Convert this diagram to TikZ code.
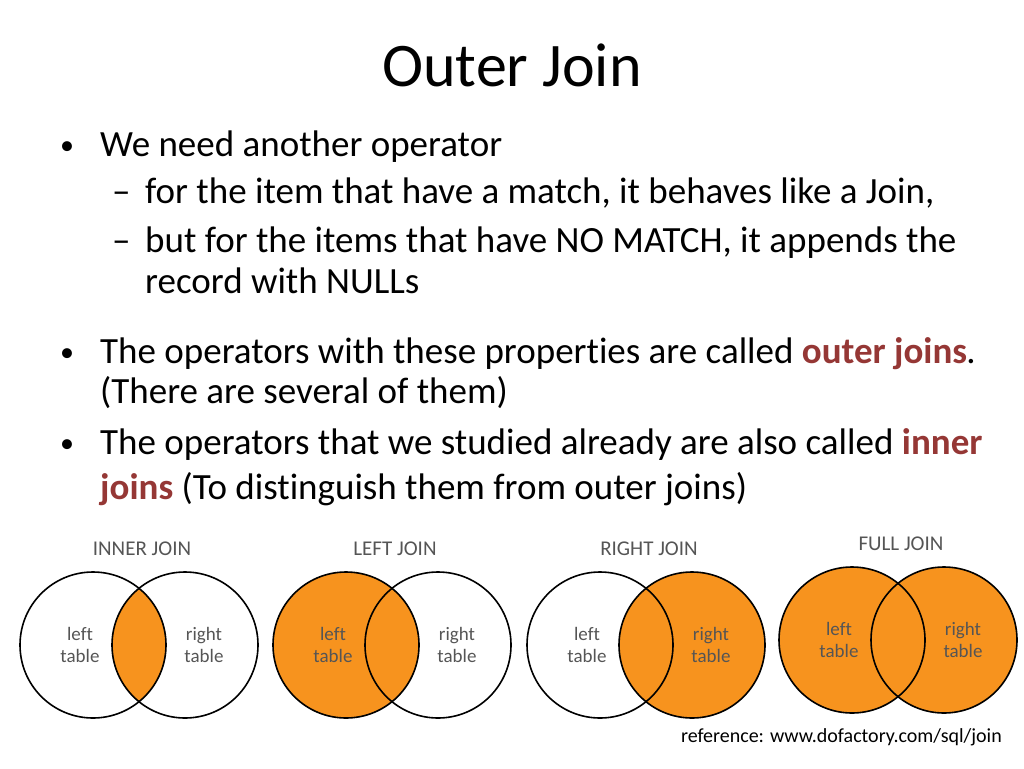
\documentclass[tikz,border=0pt]{standalone}
\usepackage{fontspec}
\setmainfont{Carlito}[RawFeature=-liga]
\definecolor{og}{HTML}{F7931E}
\definecolor{dr}{HTML}{953735}
\definecolor{lg}{HTML}{555555}
\begin{document}
\begin{tikzpicture}[x=1pt,y=-1pt,
  body/.style={anchor=base west,inner sep=0,font=\fontsize{37}{42}\selectfont},
  bul/.style={anchor=base west,inner sep=0,font=\fontsize{28}{32}\selectfont},
  hd/.style={anchor=base,inner sep=0,text=lg,font=\fontsize{21}{24}\selectfont},
  lbl/.style={align=center,text=lg,font=\fontsize{19}{22}\selectfont},
  ring/.style={draw=black,line width=1.6pt}]
\useasboundingbox (0,0) rectangle (1024,768);
\node[anchor=base,inner sep=0,font=\fontsize{62}{68}\selectfont] (t) at (512,86) {Outer Join};
\node[bul] (b1) at (60,154) {•};
\node[body] (l1) at (100,156) {We need another operator};
\node[body] (d1) at (112,203) {–};
\node[body] (l2) at (145,203) {for the item that have a match, it behaves like a Join,};
\node[body] (d2) at (112,252) {–};
\node[body] (l3) at (145,252) {but for the items that have NO MATCH, it appends the};
\node[body] (l4) at (145,293) {record with NULLs};
\node[bul] (b2) at (60,361) {•};
\node[body] (l5) at (100,363) {The operators with these properties are called \textcolor{dr}{\textbf{outer joins}}\textit{.}};
\node[body] (l6) at (100,403) {(There are several of them)};
\node[bul] (b3) at (60,452) {•};
\node[body] (l7) at (100,454) {The operators that we studied already are also called \textcolor{dr}{\textbf{inner}}};
\node[body] (l8) at (100,499) {\textcolor{dr}{\textbf{joins}} (To distinguish them from outer joins)};
% Venns
\def\r{73}
\foreach \cx/\cy/\mode/\name in {93/645/0/INNER JOIN,346/645/1/LEFT JOIN,600/645/2/RIGHT JOIN,852/640/3/FULL JOIN}{
  \pgfmathsetmacro{\dx}{\cx+92}
  \ifcase\mode
    \begin{scope}\clip (\cx,\cy) circle (\r);\fill[og] (\dx,\cy) circle (\r);\end{scope}
  \or \fill[og] (\cx,\cy) circle (\r);
  \or \fill[og] (\dx,\cy) circle (\r);
  \or \fill[og] (\cx,\cy) circle (\r); \fill[og] (\dx,\cy) circle (\r);
  \fi
  \draw[ring] (\cx,\cy) circle (\r);
  \draw[ring] (\dx,\cy) circle (\r);
  \node[lbl] at (\cx-13,\cy) {left\\table};
  \node[lbl] at (\dx+19,\cy) {right\\table};
  \node[hd] at (\cx+49,\cy-90) {\name};
}
\node[anchor=base east,inner sep=0,font=\fontsize{20}{23}\selectfont] (ref) at (1002,742) {reference: www.dofactory.com/sql/join};
\end{tikzpicture}
\end{document}
